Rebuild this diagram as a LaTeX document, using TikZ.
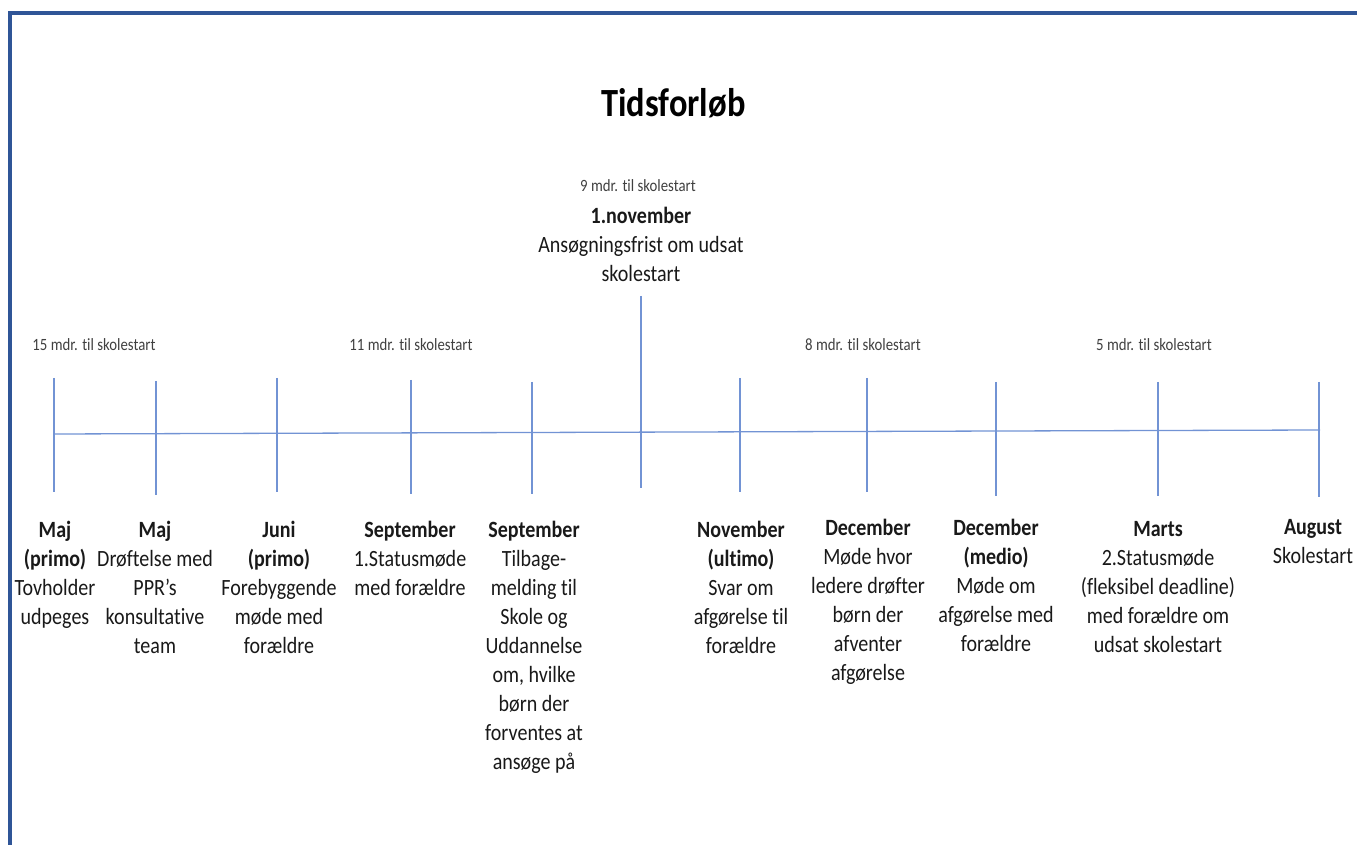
\documentclass[tikz,border=0pt]{standalone}
\usepackage{fontspec}
\setmainfont{Carlito}[FakeStretch=0.86, Ligatures=NoCommon]
\definecolor{tlblue}{RGB}{114,147,212}
\definecolor{frameblue}{RGB}{47,85,151}
\definecolor{txt}{RGB}{25,25,25}
\definecolor{smalltxt}{RGB}{64,64,64}
\tikzset{
  axisline/.style={draw=tlblue, line width=0.65pt},
  ticklbl/.style={anchor=north, inner sep=0pt, align=center, text=txt, font=\fontsize{11.65}{14.5}\selectfont},
  monthlbl/.style={inner sep=0pt, text=smalltxt, font=\fontsize{8.6}{10}\selectfont},
}
\begin{document}
\begin{tikzpicture}[x=0.5pt,y=-0.5pt]
\useasboundingbox (0,0) rectangle (1357,845);
% frame (top and left edges only)
\coordinate (frBL) at (10,845);
\coordinate (frTL) at (10,13.5);
\coordinate (frTR) at (1357,13.5);
\draw[frameblue, line width=2pt] (frBL) -- (frTL) -- (frTR);
% title
\node[inner sep=0pt, anchor=base, text=black, font=\fontsize{20}{24}\selectfont\bfseries] (title) at (673.5,117) {Tidsforløb};
% axis
\coordinate (axL) at (54,434);
\coordinate (axR) at (1320,430);
\draw[axisline] (axL) -- (axR);
% ticks
\foreach \n/\x/\t/\b in {1/54/378/492, 2/156/381/495, 3/277/378/492, 4/411/380/494, 5/532/382/494, 6/641/296/488, 7/740/378/492, 8/867/378/492, 9/996/382/496, 10/1158/382/496, 11/1319/382/497}{
  \coordinate (t\n a) at (\x,\t);
  \coordinate (t\n b) at (\x,\b);
  \draw[axisline] (t\n a) -- (t\n b);
}
% months-to-start labels
\node[monthlbl] (m15) at (94,345) {15 mdr. til skolestart};
\node[monthlbl] (m11) at (411,345) {11 mdr. til skolestart};
\node[monthlbl] (m9) at (638,186) {9 mdr. til skolestart};
\node[monthlbl] (m8) at (863,345) {8 mdr. til skolestart};
\node[monthlbl] (m5) at (1154,345) {5 mdr. til skolestart};
% top label
\node[ticklbl] (nov1) at (641,207) {\textbf{\vphantom{b}1.november}\\Ansøgningsfrist om udsat\\skolestart};
% bottom labels
\node[ticklbl] (l1) at (55,521) {\textbf{\vphantom{b}Maj}\\\textbf{(primo)}\\Tovholder\\udpeges};
\node[ticklbl] (l2) at (155,521) {\textbf{\vphantom{b}Maj}\\Drøftelse med\\PPR’s\\konsultative\\team};
\node[ticklbl] (l3) at (279,521) {\textbf{\vphantom{b}Juni}\\\textbf{(primo)}\\Forebyggende\\møde med\\forældre};
\node[ticklbl] (l4) at (410,521) {\textbf{\vphantom{b}September}\\1.Statusmøde\\med forældre};
\node[ticklbl] (l5) at (534,521) {\textbf{\vphantom{b}September}\\Tilbage-\\melding til\\Skole og\\Uddannelse\\om, hvilke\\børn der\\forventes at\\ansøge på};
\node[ticklbl] (l6) at (741,521) {\textbf{\vphantom{b}November}\\\textbf{(ultimo)}\\Svar om\\afgørelse til\\forældre};
\node[ticklbl] (l7) at (868,519) {\textbf{\vphantom{b}December}\\Møde hvor\\ledere drøfter\\børn der\\afventer\\afgørelse};
\node[ticklbl] (l8) at (996,519) {\textbf{\vphantom{b}December}\\\textbf{(medio)}\\Møde om\\afgørelse med\\forældre};
\node[ticklbl] (l9) at (1158,520) {\textbf{\vphantom{b}Marts}\\2.Statusmøde\\(fleksibel deadline)\\med forældre om\\udsat skolestart};
\node[ticklbl] (l10) at (1313,518) {\textbf{\vphantom{b}August}\\Skolestart};
\end{tikzpicture}
\end{document}
